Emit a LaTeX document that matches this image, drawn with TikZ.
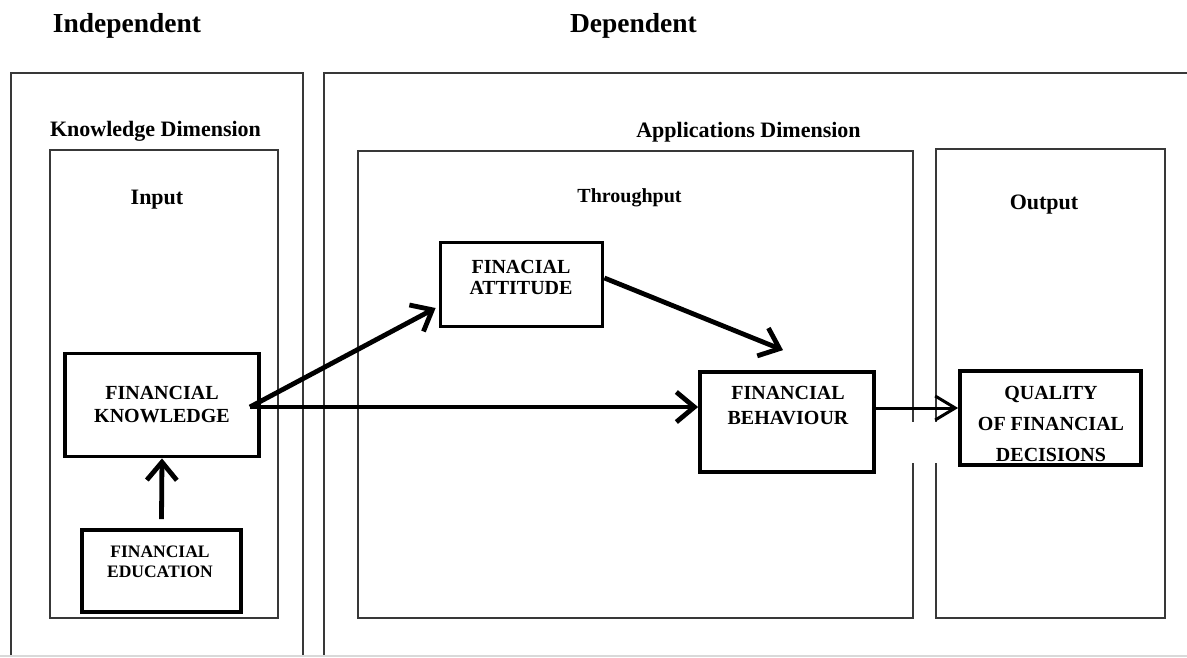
\documentclass[tikz,border=0pt]{standalone}
\usepackage{fontspec}
\setmainfont{Liberation Serif}
\usetikzlibrary{arrows.meta,calc}
\begin{document}
\begin{tikzpicture}[x=1pt,y=-1pt,
  frame/.style={draw=black!78, line width=2.4pt},
  box/.style={draw=black, line width=3.8pt, fill=none, inner sep=0pt},
  boxtext/.style={align=center, inner sep=0pt, font=\fontsize{20}{#1}\selectfont\bfseries},
  headtext/.style={anchor=base, inner sep=0pt, font=\fontsize{27.5}{32}\selectfont\bfseries},
  dimtext/.style={anchor=base, inner sep=0pt, font=\fontsize{22}{26}\selectfont\bfseries},
  arr/.style={line width=4.8pt, -{Straight Barb[length=18pt,width=30pt]}},
  thinarr/.style={line width=3pt, -{Straight Barb[length=20pt,width=24pt]}}
]
\useasboundingbox (0,0) rectangle (1187,657);
\fill[white] (0,0) rectangle (1187,657);

% headings
\node[headtext] (indep) at (127,32) {Independent};
\node[headtext] (dep) at (633.5,32) {Dependent};

% outer frames (cut off by the picture edge)
\begin{scope}
\clip (0,0) rectangle (1187,655);
\draw[frame] (11,700) -- (11,73) -- (303,73) -- (303,700);
\draw[frame] (324,700) -- (324,73) -- (1240,73);
\end{scope}
\draw[gray!30, line width=1.5pt] (0,656) -- (1187,656);

% inner frames
\draw[frame] (50,150) rectangle (278,618);
\draw[frame] (358,151) rectangle (913,618);
\draw[frame] (936,149) rectangle (1165,618);

% gap in the frame lines
\fill[white] (904,422) rectangle (946,463);

% frame titles
\node[dimtext] (kdim) at (155.5,136) {Knowledge Dimension};
\node[dimtext] (input) at (157,204) {Input};
\node[dimtext] (adim) at (748.5,137) {Applications Dimension};
\node[dimtext, font=\fontsize{20}{24}\selectfont\bfseries] (thr) at (629.5,202) {Throughput};
\node[dimtext] (outp) at (1044,209) {Output};

% boxes
\node[box, minimum width=194pt, minimum height=103pt] (know) at (162,405) {};
\node[box, minimum width=159pt, minimum height=82pt] (edu) at (161.5,571) {};
\node[box, minimum width=162pt, minimum height=84pt] (att) at (521.5,284.5) {};
\node[box, minimum width=174pt, minimum height=100pt] (beh) at (787,422) {};
\node[box, minimum width=181pt, minimum height=94pt] (qual) at (1050.5,418) {};

% box texts
\node[boxtext=23] (knowt) at (162,404.5) {FINANCIAL\\KNOWLEDGE};
\node[boxtext=20, font=\fontsize{17.5}{20}\selectfont\bfseries] (edut) at (160,562) {FINANCIAL\\EDUCATION};
\node[boxtext=21] (attt) at (521,277.5) {FINACIAL\\ATTITUDE};
\node[boxtext=25] (beht) at (788,405.5) {FINANCIAL\\BEHAVIOUR};
\node[boxtext=31] (qualt) at (1051,424) {QUALITY\\OF FINANCIAL\\DECISIONS};

% connectors
\coordinate (ks) at ($(know.east)+(-11,2)$);
\coordinate (es) at ($(edu.north)+(0,-9)$);
\coordinate (at) at ($(att.west)+(-3,23.5)$);
\coordinate (as) at ($(att.east)+(0,-6.5)$);
\coordinate (bt) at ($(beh.north)+(-4,-20)$);
\coordinate (bs) at ($(beh.east)+(0,-14)$);

\draw[arr] (es) -- (know.south);
\draw[arr] (ks) -- (at);
\draw[arr] (as) -- (bt);
\draw[arr] (ks) -- (ks -| beh.west);
\draw[thinarr] (bs) -- (bs -| qual.west);
\end{tikzpicture}
\end{document}
